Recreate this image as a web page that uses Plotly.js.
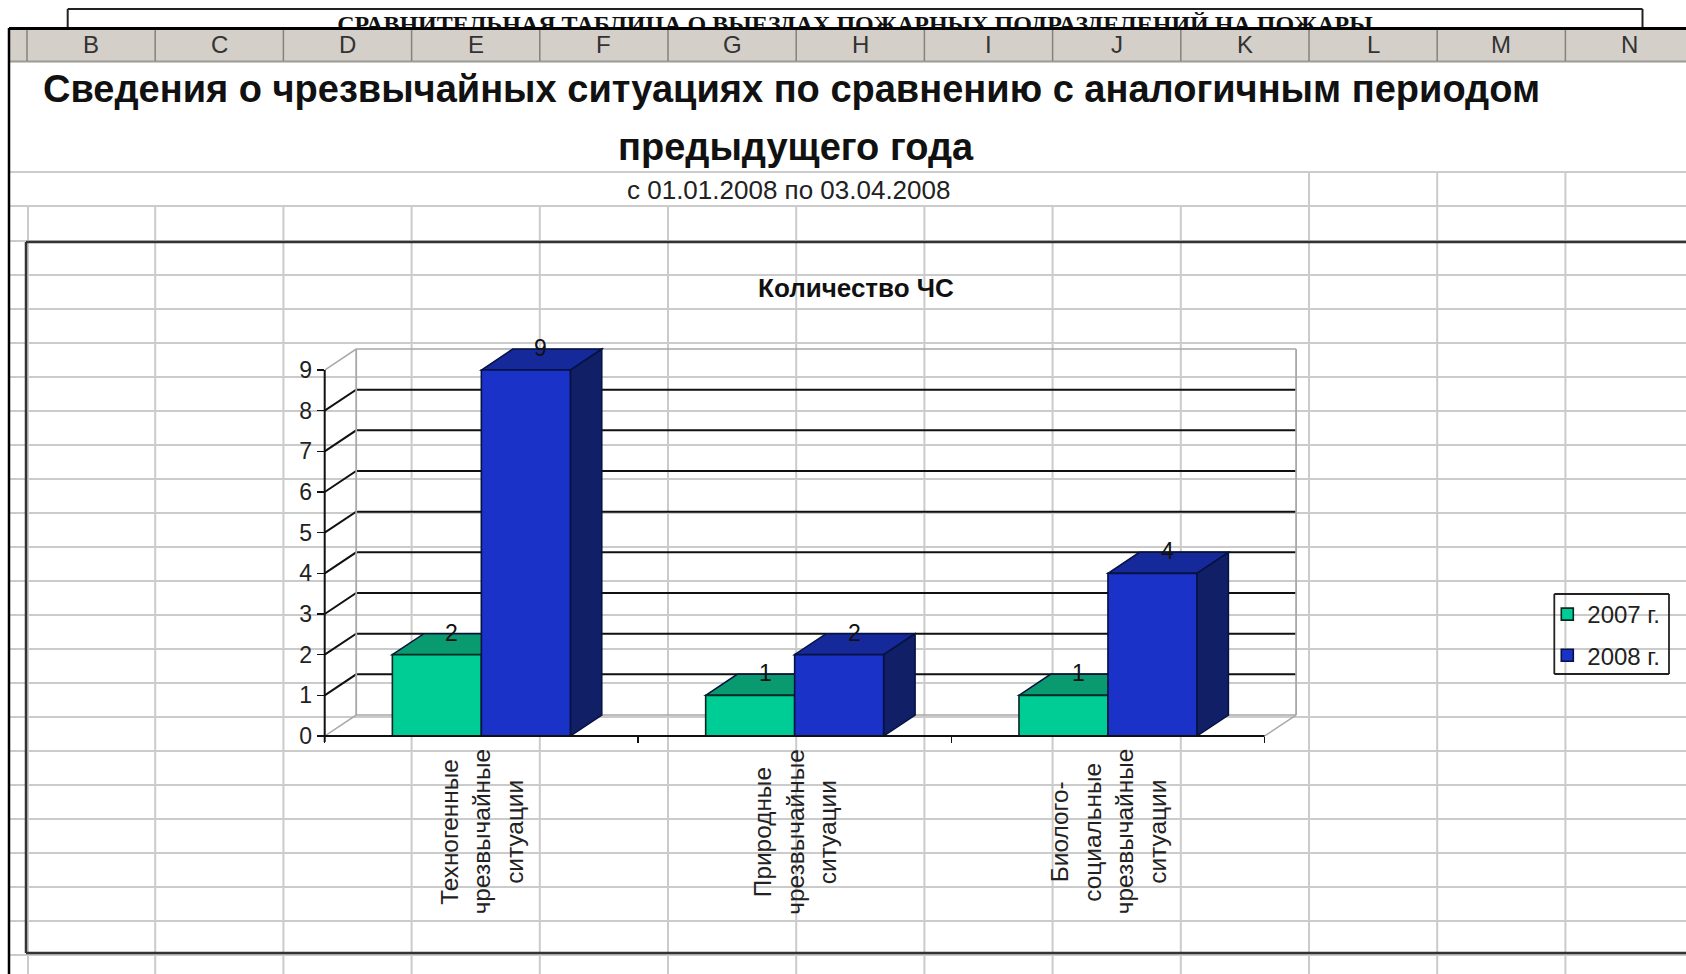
<!DOCTYPE html>
<html><head><meta charset="utf-8">
<script src="https://cdn.plot.ly/plotly-3.0.1.min.js"></script>
<style>html,body{margin:0;padding:0;background:#fff;overflow:hidden}</style>
</head><body><div id="chart" style="width:1686px;height:974px"></div>
<script>
// ---- data ----
const categoryLines = [
  ['Техногенные','чрезвычайные','ситуации'],
  ['Природные','чрезвычайные','ситуации'],
  ['Биолого-','социальные','чрезвычайные','ситуации']
];
const categories = categoryLines.map(l => l.join(' '));
const seriesNames = ['2007 г.','2008 г.'];
const values2007 = [2,1,1];
const values2008 = [9,2,4];
const yTicks = [0,1,2,3,4,5,6,7,8,9];
const columnLabels = ['B','C','D','E','F','G','H','I','J','K','L','M','N'];
const sheetCaption = 'СРАВНИТЕЛЬНАЯ ТАБЛИЦА О ВЫЕЗДАХ ПОЖАРНЫХ ПОДРАЗДЕЛЕНИЙ НА ПОЖАРЫ';
const sheetTitle1 = 'Сведения о чрезвычайных ситуациях по сравнению с аналогичным периодом';
const sheetTitle2 = 'предыдущего года';
const sheetPeriod = 'с 01.01.2008 по 03.04.2008';
const chartTitle = 'Количество ЧС';

// ---- styles ----
const W=1686,H=974;
const SANS='"Liberation Sans", Arial, sans-serif', SERIF='"Liberation Serif", serif';
const GREEN='#00CC96', GREEN_TOP='#0A9A70', GREEN_SIDE='#07684C';
const BLUE='#1B32C8', BLUE_TOP='#16299A', BLUE_SIDE='#101F66';
const GRID='#CBCBCB', HEAD='#D4CFC8';
const px=x=>x/W, py=y=>1-y/H;

// axis geometry (pixels on the page)
const axL=324.7, axR=1264.6, y0=736, y9=370;
const catPx=(axR-axL)/3, unitPx=(y0-y9)/9;
const depthX=31.5/catPx, depthY=21/unitPx;       // oblique depth in axis units
const barFrac=0.284;                             // one bar, in category units
const plotR=axR+31.5+3, plotT=y0-(9+depthY+0.1)*unitPx;
const xRange=[-0.5,-0.5+(plotR-axL)/catPx], yRange=[0,(y0-plotT)/unitPx];

// ---- sheet furniture ----
const shapes=[];
const line=(x0,y0_,x1,y1,color,width,layer)=>shapes.push({type:'line',xref:'paper',yref:'paper',
  x0:px(x0),x1:px(x1),y0:py(y0_),y1:py(y1),line:{color,width},layer:layer||'below'});
const rect=(x0,y0_,x1,y1,fill,layer)=>shapes.push({type:'rect',xref:'paper',yref:'paper',
  x0:px(x0),x1:px(x1),y0:py(y0_),y1:py(y1),fillcolor:fill,line:{width:0},layer:layer||'below'});
const colX=k=>27+128.2*k;

// caption box behind the window
line(67.7,9,1642.5,9,'#222',2); line(67.7,9,67.7,28,'#222',2); line(1642.5,9,1642.5,28,'#222',2);
// cell grid
[172,206].forEach(y=>line(9,y,W,y,GRID,2));
for(let y=241;y<H;y+=34) line(9,y,W,y,GRID,2);
for(let k=0;k<13;k++) line(colX(k)+(k===0?1:0),k>=10?172:206,colX(k)+(k===0?1:0),H,GRID,2);
// column header
rect(9,29,W,61,HEAD);
line(9,61.5,W,61.5,'#9C9A94',2);
for(let k=0;k<13;k++) line(colX(k),29,colX(k),61,'#85827B',1.5);
// window edge
line(9,28.5,W,28.5,'#000',3); line(9,28,9,H,'#000',2.5);
// chart frame
line(26,242,W,242,'#333',2.5); line(26,242,26,953,'#333',2.5); line(26,953,W,953,'#333',2.5);
// legend frame
line(1554.3,594,1669,594,'#222',1.8); line(1669,594,1669,674,'#222',1.8);
line(1669,674,1554.3,674,'#222',1.8); line(1554.3,674,1554.3,594,'#222',1.8);

// ---- oblique back wall, all in axis units ----
const path=(pts,closed)=>'M '+pts.map(p=>p[0].toFixed(4)+','+p[1].toFixed(4)).join(' L ')+(closed?' Z':'');
const dataPath=(pts,closed,fill,color,width)=>shapes.push({type:'path',xref:'x',yref:'y',layer:'below',
  path:path(pts,closed),fillcolor:fill||'rgba(0,0,0,0)',line:{color:color,width:width}});
const xa=-0.5, xb=2.5;
yTicks.forEach(v=>{
  const edge=(v===0||v===yTicks[yTicks.length-1]);
  dataPath([[xa,v],[xa+depthX,v+depthY],[xb+depthX,v+depthY]],false,null,edge?'#A8A8A8':'#111',edge?1.5:2);
});
dataPath([[xa+depthX,depthY],[xa+depthX,9+depthY]],false,null,'#A8A8A8',1.8);
dataPath([[xb+depthX,depthY],[xb+depthX,9+depthY]],false,null,'#A8A8A8',1.8);
dataPath([[xb,0],[xb+depthX,depthY]],false,null,'#A8A8A8',1.5);

// ---- oblique faces of the bars ----
function faces(vals,slot,top,side){
  vals.forEach((v,i)=>{
    const l=i+(slot-1)*barFrac, r=l+barFrac;
    dataPath([[l,v],[l+depthX,v+depthY],[r+depthX,v+depthY],[r,v]],true,top,'#06123F',1.5);
    dataPath([[r,v],[r+depthX,v+depthY],[r+depthX,depthY],[r,0]],true,side,'#06123F',1.5);
  });
}
faces(values2007,0,GREEN_TOP,GREEN_SIDE);
faces(values2008,1,BLUE_TOP,BLUE_SIDE);

// axis lines stop at the plot proper, so they are drawn apart from the taller plot area
line(axL,y9,axL,y0+6,'#111',2,'above');
line(axL-7,y0,axR,y0,'#111',2,'above');

// ---- texts ----
const annotations=[];
const note=(text,x,y,size,opts)=>annotations.push(Object.assign({text,xref:'paper',yref:'paper',
  x:px(x),y:py(y),xanchor:'center',yanchor:'middle',showarrow:false,
  font:{family:SANS,size,color:'#111'}},opts||{}));
columnLabels.forEach((c,k)=>note(c,colX(k)+64,44.5,24,{font:{family:SANS,size:24,color:'#333'}}));
note('<b>'+sheetTitle1+'</b>',791,88.5,38);
note('<b>'+sheetTitle2+'</b>',796,147.5,38);
note(sheetPeriod,788,190,26,{font:{family:SANS,size:26,color:'#222'}});

categoryLines.forEach((lines,i)=>lines.forEach((t,j)=>{
  annotations.push({text:t,xref:'x',yref:'paper',x:i,y:py(832),xshift:(j-(lines.length-1)/2)*32.5,
    xanchor:'center',yanchor:'middle',textangle:-90,showarrow:false,
    font:{family:SANS,size:24.4,color:'#222'}});
}));
[[values2007,-0.284/2],[values2008,0.284/2]].forEach(([vals,off])=>vals.forEach((v,i)=>{
  annotations.push({text:String(v),xref:'x',yref:'y',x:i,y:v,xshift:off*catPx+15,yshift:22,
    xanchor:'center',yanchor:'middle',showarrow:false,font:{family:SANS,size:23,color:'#111'}});
}));

// ---- traces ----
const traces=[
 {type:'bar',name:seriesNames[0],x:categories,y:values2007,legendgroup:'a',
  marker:{color:GREEN,line:{color:'#06281F',width:1.6}},hoverinfo:'skip'},
 {type:'bar',name:seriesNames[1],x:categories,y:values2008,legendgroup:'b',
  marker:{color:BLUE,line:{color:'#06123F',width:1.6}},hoverinfo:'skip'},
 // caption of the sheet behind the window: cut off by its own small subplot
 {type:'scatter',mode:'text',x:[855],y:[26],text:['<b>'+sheetCaption+'</b>'],xaxis:'x2',yaxis:'y2',
  textposition:'middle center',textfont:{family:SERIF,size:24,color:'#111'},cliponaxis:true,showlegend:false,hoverinfo:'skip'}
];

const layout={
  width:W,height:H,margin:{l:0,r:0,t:0,b:0},paper_bgcolor:'#fff',plot_bgcolor:'rgba(0,0,0,0)',
  barmode:'group',bargap:1-2*barFrac,bargroupgap:0,
  title:{text:'<b>'+chartTitle+'</b>',x:px(856),y:py(288),xanchor:'center',yanchor:'middle',
    font:{family:SANS,size:26,color:'#111'}},
  xaxis:{type:'category',categoryorder:'array',categoryarray:categories,
    domain:[px(axL),px(plotR)],range:xRange,anchor:'y',tickson:'boundaries',
    ticks:'outside',ticklen:6,tickwidth:1.5,tickcolor:'#111',showticklabels:false,
    showgrid:false,zeroline:false,showline:false,fixedrange:true},
  yaxis:{domain:[py(y0),py(plotT)],range:yRange,anchor:'x',tickmode:'array',tickvals:yTicks,
    ticktext:yTicks.map(String),ticks:'outside',ticklen:7,tickwidth:1.5,tickcolor:'#111',
    tickfont:{family:SANS,size:23,color:'#222'},showgrid:false,zeroline:false,showline:false,fixedrange:true},
  xaxis2:{domain:[0,1],range:[0,W],anchor:'y2',visible:false,fixedrange:true},
  yaxis2:{domain:[py(27.5),1],range:[27.5,0],anchor:'x2',visible:false,fixedrange:true},
  legend:{x:px(1547.3),y:py(592),xanchor:'left',yanchor:'top',bgcolor:'rgba(255,255,255,0)',
    borderwidth:0,font:{family:SANS,size:24,color:'#222'},
    traceorder:'grouped',tracegroupgap:7,itemwidth:30},
  shapes,annotations,showlegend:true
};
Plotly.newPlot('chart',traces,layout,{staticPlot:true,displayModeBar:false});
</script></body></html>
